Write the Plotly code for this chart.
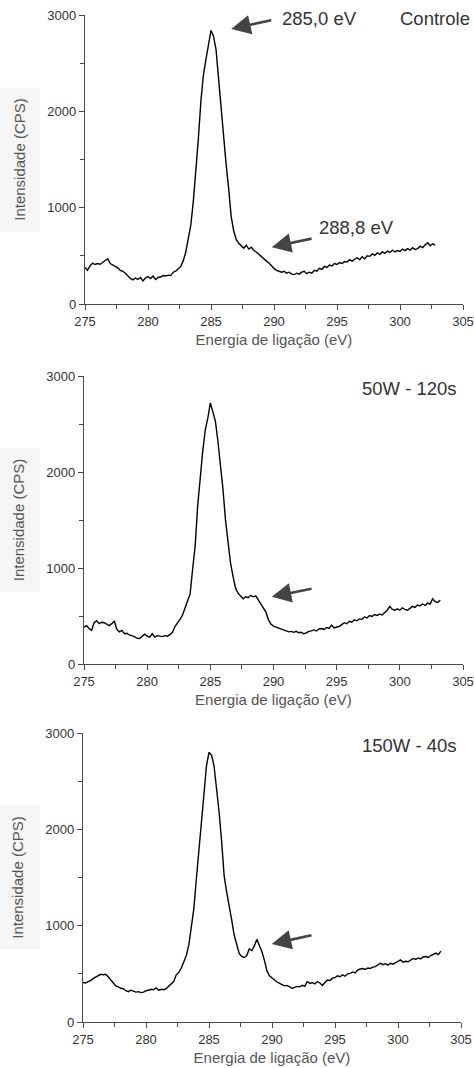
import plotly.graph_objects as go

# ---------------- data ----------------
energy = [
    275.0, 275.2, 275.4, 275.6, 275.8, 276.0, 276.2, 276.4, 276.6, 276.8,
    277.0, 277.2, 277.4, 277.6, 277.8, 278.0, 278.2, 278.4, 278.6, 278.8,
    279.0, 279.2, 279.4, 279.6, 279.8, 280.0, 280.2, 280.4, 280.6, 280.8,
    281.0, 281.2, 281.4, 281.6, 281.8, 282.0, 282.2, 282.4, 282.6, 282.8,
    283.0, 283.2, 283.4, 283.6, 283.8, 284.0, 284.2, 284.4, 284.6, 284.8,
    285.0, 285.2, 285.4, 285.6, 285.8, 286.0, 286.2, 286.4, 286.6, 286.8,
    287.0, 287.2, 287.4, 287.6, 287.8, 288.0, 288.2, 288.4, 288.6, 288.8,
    289.0, 289.2, 289.4, 289.6, 289.8, 290.0, 290.2, 290.4, 290.6, 290.8,
    291.0, 291.2, 291.4, 291.6, 291.8, 292.0, 292.2, 292.4, 292.6, 292.8,
    293.0, 293.2, 293.4, 293.6, 293.8, 294.0, 294.2, 294.4, 294.6, 294.8,
    295.0, 295.2, 295.4, 295.6, 295.8, 296.0, 296.2, 296.4, 296.6, 296.8,
    297.0, 297.2, 297.4, 297.6, 297.8, 298.0, 298.2, 298.4, 298.6, 298.8,
    299.0, 299.2, 299.4, 299.6, 299.8, 300.0, 300.2, 300.4, 300.6, 300.8,
    301.0, 301.2, 301.4, 301.6, 301.8, 302.0, 302.2, 302.4, 302.6, 302.8,
    303.0, 303.2, 303.4,
]

controle = [
    380, 350, 395, 425, 410, 420, 412, 430, 450, 470,
    420, 405, 390, 375, 350, 340, 320, 290, 265, 250,
    270, 255, 275, 240, 270, 285, 265, 290, 255, 275,
    280, 295, 290, 300, 295, 330, 340, 365, 390, 450,
    540, 680, 820, 1070, 1370, 1720, 2110, 2380, 2540, 2680,
    2840, 2780, 2640, 2340, 2030, 1700, 1450, 1200, 910, 760,
    670, 630, 600, 580, 610, 570, 590, 555, 540, 515,
    495, 460, 445, 425, 395, 370, 350, 340, 330, 340,
    320, 330, 310, 305, 320, 310, 330, 340, 315, 330,
    320, 350, 340, 370, 360, 390, 380, 405, 395, 420,
    410, 430, 420, 440, 435, 460, 445, 465, 480, 460,
    490, 470, 500, 495, 520, 505, 530, 515, 540, 525,
    550, 535, 560, 540, 555, 545, 570, 555, 575, 560,
    585, 565, 575, 600, 585, 615, 635, 605, 625, 610,
]

w50_120s = [
    385, 400, 370, 350, 430, 450, 420, 435, 430, 415,
    400, 420, 445, 360, 335, 350, 315, 320, 300, 295,
    280, 270, 265, 290, 310, 290, 280, 315, 280, 295,
    290, 285, 295, 290, 305, 330, 390, 425, 465, 510,
    590, 660, 730, 990, 1230, 1650, 1950, 2220, 2440, 2560,
    2720, 2630, 2530, 2320, 2080, 1820, 1500, 1240, 1050, 910,
    790, 735, 710, 680, 700, 690, 715, 700, 710, 670,
    630, 590, 540, 460, 415, 395, 385, 370, 365, 350,
    345, 335, 340, 330, 340, 325, 330, 315, 325, 340,
    345, 355, 345, 365, 370, 360, 380, 370, 405, 375,
    385, 390, 410, 430, 420, 445, 435, 460, 450, 470,
    465, 490, 480, 505, 495, 515, 505, 520, 510, 535,
    560, 600, 570, 560, 575, 560, 585, 570, 560, 580,
    600, 590, 615, 605, 625, 610, 635, 625, 680, 650,
    640, 665,
]

w150_40s = [
    410, 405, 420, 430, 450, 465, 480, 495, 490, 495,
    470, 440, 410, 375, 365, 350, 345, 325, 315, 330,
    320, 310, 315, 305, 310, 325, 330, 340, 335, 355,
    330, 340, 335, 345, 370, 395, 420, 490, 515, 560,
    630, 690, 800, 970, 1180, 1490, 1800, 2130, 2430, 2660,
    2800, 2770, 2660, 2440, 2180, 1880, 1520, 1350, 1220, 1060,
    900, 800, 710, 680, 670, 690, 760, 740, 790, 860,
    800, 730, 640, 530, 480, 455, 430, 415, 400, 385,
    375, 380, 365, 350, 360, 370, 365, 380, 370, 420,
    400, 410, 395, 420, 405, 380, 410, 435, 430, 455,
    460, 480, 470, 490, 475, 500, 505, 520, 510, 540,
    550, 555, 545, 560, 555, 570, 575, 590, 610, 595,
    605, 590, 610, 600, 615, 625, 645, 620, 630, 625,
    645, 660, 650, 665, 655, 675, 680, 670, 690, 705,
    715, 700, 735,
]

sample_labels = ["Controle", "50W - 120s", "150W - 40s"]
x_tick_values = [275, 280, 285, 290, 295, 300, 305]
y_tick_values = [0, 1000, 2000, 3000]
x_title = "Energia de ligação (eV)"
y_title = "Intensidade (CPS)"

# peak annotations: (text, arrow tip x, tip y, tail x, tail y)
peak_main = ("285,0 eV", 286.6, 2855, 289.9, 2950)
peak_ox = [
    ("288,8 eV", 289.82, 590, 293.1, 682),
    ("", 289.86, 701, 293.13, 788),
    ("", 289.98, 810, 293.25, 903),
]

# ---------------- layout ----------------
W, H = 474, 1068
FONT = "Liberation Sans, Arial, sans-serif"
series = [controle, w50_120s, w150_40s]
# pixel geometry of each panel: (x left, x right, y top, y bottom)
panels = [(85, 463, 15, 304), (84, 463, 376, 664), (83, 461, 733, 1022)]

fig = go.Figure()
for i, (vals, (xl, xr, yt, yb)) in enumerate(zip(series, panels)):
    n = "" if i == 0 else str(i + 1)
    fig.add_trace(go.Scatter(
        x=energy[:len(vals)], y=vals, mode="lines",
        line=dict(color="#000000", width=1.4),
        xaxis="x" + n, yaxis="y" + n, showlegend=False,
        hoverinfo="x+y",
    ))
    axis_common = dict(
        showline=True, linecolor="#4a4a4a", linewidth=1.3,
        ticks="outside", ticklen=5, tickwidth=1.2, tickcolor="#4a4a4a",
        showgrid=False, zeroline=False, automargin=False,
        tickfont=dict(family=FONT, size=13, color="#333333"),
    )
    fig.layout["xaxis" + n] = dict(
        axis_common,
        domain=[xl / W, xr / W], anchor="y" + n,
        range=[275, 305], tickmode="array", tickvals=x_tick_values,
        minor=dict(dtick=2.5, tick0=275, ticks="outside", ticklen=4,
                   tickwidth=1.2, tickcolor="#4a4a4a"),
        title=dict(text=x_title, standoff=6,
                   font=dict(family=FONT, size=15, color="#555555")),
    )
    fig.layout["yaxis" + n] = dict(
        axis_common,
        domain=[1 - yb / H, 1 - yt / H], anchor="x" + n,
        range=[0, 3000], tickmode="array", tickvals=y_tick_values,
        minor=dict(dtick=500, tick0=0, ticks="outside", ticklen=4,
                   tickwidth=1.2, tickcolor="#4a4a4a"),
        title=dict(text=y_title, standoff=18,
                   font=dict(family=FONT, size=15, color="#555555")),
    )
    # faint box behind the y-axis title
    cy = (yt + yb) / 2
    fig.add_shape(type="rect", xref="paper", yref="paper",
                  x0=0, x1=40 / W, y0=1 - (cy + 72) / H, y1=1 - (cy - 72) / H,
                  fillcolor="#f6f6f6", line=dict(width=0), layer="below")
    # sample label at top right
    fig.add_annotation(text=sample_labels[i], xref="paper", yref="paper",
                       x=(472 if i == 0 else 459) / W,
                       y=1 - (yt + (3 if i == 0 else 12)) / H,
                       xanchor="right", yanchor="middle", showarrow=False,
                       font=dict(family=FONT, size=18.5, color="#333333"))
    # arrow toward the 288.8 eV component
    txt, tx, ty, ax_, ay_ = peak_ox[i]
    fig.add_annotation(x=tx, y=ty, ax=ax_, ay=ay_, xref="x" + n, yref="y" + n,
                       axref="x" + n, ayref="y" + n, text="", showarrow=True,
                       arrowhead=2, arrowsize=1.5, arrowwidth=2.6,
                       arrowcolor="#444444", standoff=0, startstandoff=0)
    if txt:
        fig.add_annotation(text=txt, x=ax_, y=ay_, xref="x" + n, yref="y" + n,
                           xanchor="left", yanchor="bottom", xshift=4, yshift=-2,
                           showarrow=False,
                           font=dict(family=FONT, size=18.5, color="#333333"))

# main peak arrow (panel 1)
txt, tx, ty, ax_, ay_ = peak_main
fig.add_annotation(x=tx, y=ty, ax=ax_, ay=ay_, xref="x", yref="y",
                   axref="x", ayref="y", text="", showarrow=True,
                   arrowhead=2, arrowsize=1.5, arrowwidth=2.6,
                   arrowcolor="#444444", standoff=0, startstandoff=0)
fig.add_annotation(text=txt, xref="paper", yref="paper", x=280 / W, y=1 - 18 / H,
                   xanchor="left", yanchor="middle", showarrow=False,
                   font=dict(family=FONT, size=18.5, color="#333333"))

fig.update_layout(
    width=W, height=H, margin=dict(l=0, r=0, t=0, b=0),
    paper_bgcolor="white", plot_bgcolor="white",
    font=dict(family=FONT, color="#333333"),
)

fig.write_html("out.html")
